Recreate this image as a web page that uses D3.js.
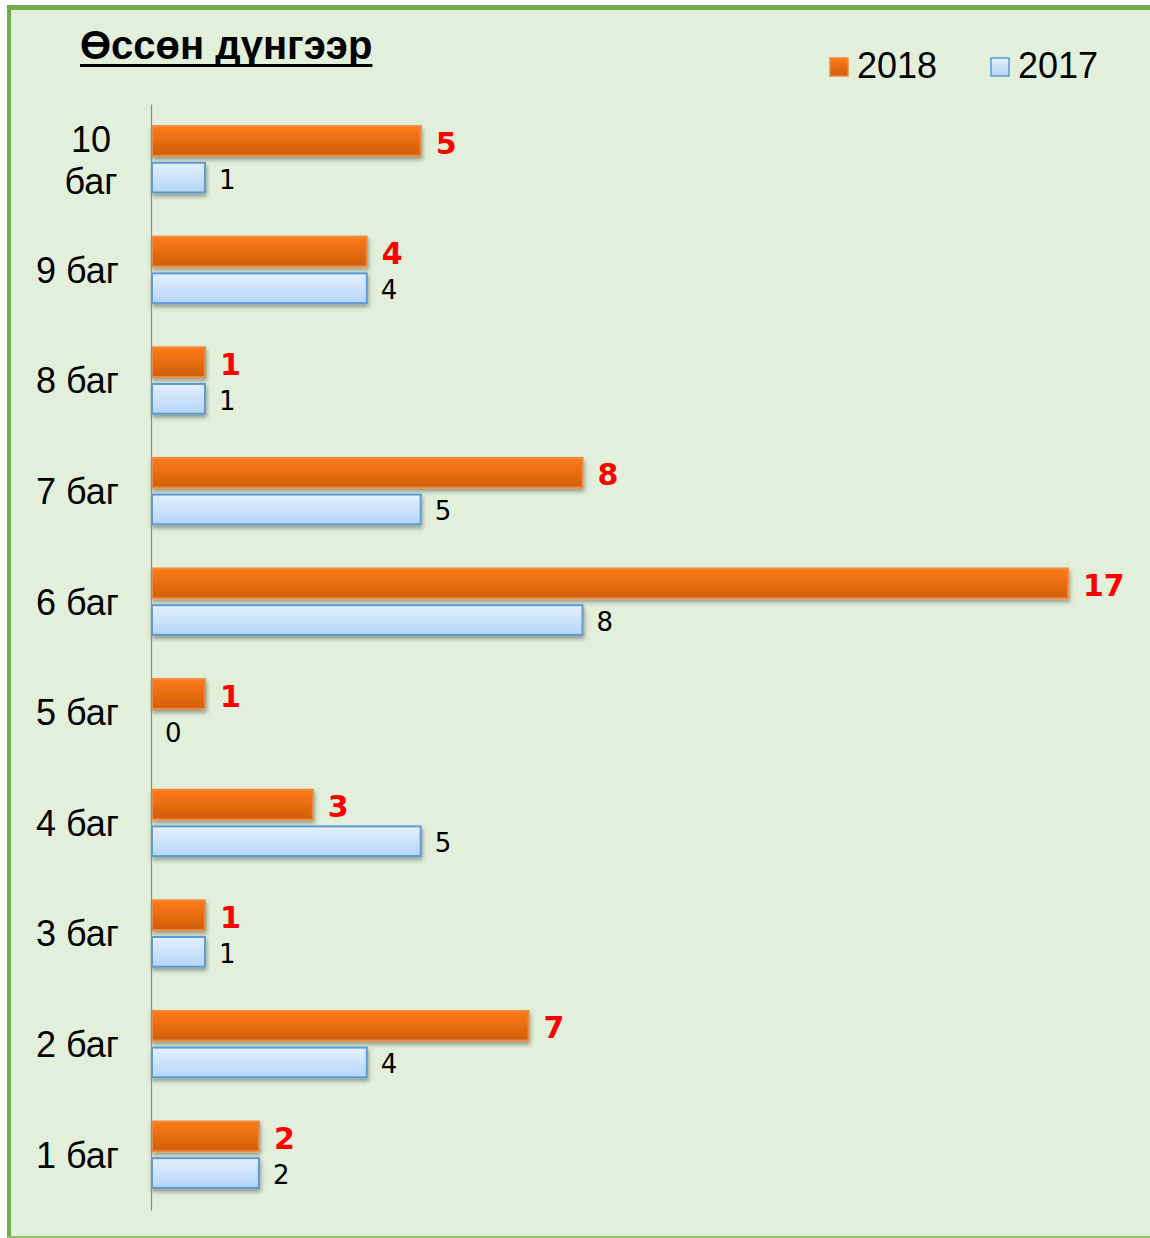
<!DOCTYPE html>
<html lang="mn">
<head>
<meta charset="UTF-8">
<title>Өссөн дүнгээр</title>
<script src="https://d3js.org/d3.v7.min.js"></script>
<style>
  html, body { margin: 0; padding: 0; background: #fff; }
  .cat text { font-family: "Liberation Sans", Arial, sans-serif; font-size: 36px; fill: #000; }
  .lab18 { font-family: "DejaVu Sans", Verdana, sans-serif; font-size: 30px; font-weight: bold; fill: #ff0000; }
  .lab17 { font-family: "DejaVu Sans", Verdana, sans-serif; font-size: 26px; fill: #000; }
  .legend text { font-family: "Liberation Sans", Arial, sans-serif; font-size: 36px; fill: #000; }
  .title { font-family: "Liberation Sans", Arial, sans-serif; font-size: 40px; font-weight: bold; }
</style>
</head>
<body>
<div id="chart"></div>
<script>
// values
const categories = ["10 баг", "9 баг", "8 баг", "7 баг", "6 баг", "5 баг", "4 баг", "3 баг", "2 баг", "1 баг"];
const series = ["2018", "2017"];
const values2018 = [5, 4, 1, 8, 17, 1, 3, 1, 7, 2];
const values2017 = [1, 4, 1, 5, 8, 0, 5, 1, 4, 2];
const titleText = "Өссөн дүнгээр";

const W = 1150, H = 1238;
const svg = d3.select("#chart").append("svg")
  .attr("width", W).attr("height", H);

const defs = svg.append("defs");
const gOrange = defs.append("linearGradient").attr("id", "gOrange")
  .attr("x1", 0).attr("y1", 0).attr("x2", 0).attr("y2", 1);
gOrange.append("stop").attr("offset", "0%").attr("stop-color", "#ff7b17");
gOrange.append("stop").attr("offset", "100%").attr("stop-color", "#cf5e0c");
const gBlue = defs.append("linearGradient").attr("id", "gBlue")
  .attr("x1", 0).attr("y1", 0).attr("x2", 0).attr("y2", 1);
gBlue.append("stop").attr("offset", "0%").attr("stop-color", "#e4f0ff");
gBlue.append("stop").attr("offset", "100%").attr("stop-color", "#b4d5f8");
const shadow = defs.append("filter").attr("id", "shadow")
  .attr("x", "-5%").attr("y", "-30%").attr("width", "115%").attr("height", "180%");
shadow.append("feDropShadow").attr("dx", 1).attr("dy", 3).attr("stdDeviation", 2)
  .attr("flood-color", "#000").attr("flood-opacity", 0.35);

// background + frame
svg.append("rect").attr("x", 0).attr("y", 0).attr("width", W).attr("height", H).attr("fill", "#fff");
svg.append("rect").attr("x", 9).attr("y", 8).attr("width", W - 9).attr("height", H - 9)
  .attr("fill", "#e2efda");
svg.append("rect").attr("x", 7).attr("y", 5).attr("width", W - 7).attr("height", 5).attr("fill", "#70ad47");
svg.append("rect").attr("x", 7).attr("y", 5).attr("width", 4).attr("height", H - 5).attr("fill", "#70ad47");
svg.append("rect").attr("x", 7).attr("y", H - 2).attr("width", W - 7).attr("height", 2).attr("fill", "#8fbf6a");

// title with a solid underline
const title = svg.append("text").attr("class", "title").attr("x", 80).attr("y", 59).text(titleText);
const tw = title.node().getComputedTextLength();
svg.append("rect").attr("x", 80).attr("y", 64).attr("width", tw).attr("height", 3).attr("fill", "#000");

const x0 = 151;
const x = d3.scaleLinear().domain([0, 17]).range([x0, x0 + 917]);
const y = d3.scaleBand().domain(categories).range([104, 1210]).padding(0);
const ySub = d3.scaleBand().domain(series)
  .range([y.bandwidth() * 0.2, y.bandwidth() * 0.8]).paddingInner(0.19);

const rows = categories.map((c, i) => ({ cat: c, v: { "2018": values2018[i], "2017": values2017[i] } }));
const fills = { "2018": "url(#gOrange)", "2017": "url(#gBlue)" };
const strokes = { "2018": "#f08a3c", "2017": "#5b9bd5" };

const groups = svg.append("g").selectAll("g").data(rows).enter().append("g")
  .attr("transform", d => `translate(0,${y(d.cat)})`);

groups.selectAll("rect").data(d => series.map(s => ({ s, v: d.v[s] })).filter(e => e.v > 0))
  .enter().append("rect")
  .attr("x", x(0) + 1)
  .attr("y", e => ySub(e.s))
  .attr("width", e => x(e.v) - x(0) - 1)
  .attr("height", ySub.bandwidth())
  .attr("fill", e => fills[e.s])
  .attr("stroke", e => strokes[e.s])
  .attr("stroke-width", 2)
  .attr("filter", "url(#shadow)");

groups.selectAll("text").data(d => series.map(s => ({ s, v: d.v[s] })))
  .enter().append("text")
  .attr("class", e => e.s === "2018" ? "lab18" : "lab17")
  .attr("x", e => x(e.v) + (e.s === "2018" ? 15 : 14))
  .attr("y", e => ySub(e.s) + ySub.bandwidth() / 2)
  .attr("dy", "0.42em")
  .text(e => e.v);

// category axis
const axis = svg.append("g").attr("class", "cat")
  .attr("transform", `translate(${x0},0)`)
  .call(d3.axisLeft(y).tickSize(0).tickSizeOuter(0).tickPadding(32));
axis.select(".domain").attr("stroke", "#8c8c8c").attr("stroke-width", 1.2);
axis.selectAll(".tick text").attr("dy", "0.36em").each(function (d) {
  const t = d3.select(this);
  const words = d.split(" ");
  if (words[0].length > 1) {
    t.text(null).attr("text-anchor", "middle").attr("x", -60).attr("dy", null);
    t.append("tspan").attr("x", -60).attr("dy", "-0.2em").text(words[0]);
    t.append("tspan").attr("x", -60).attr("dy", "1.17em").text(words.slice(1).join(" "));
  }
});

// legend
const legend = svg.append("g").attr("class", "legend");
const legX = { "2018": 829, "2017": 990 };
series.forEach(s => {
  const g = legend.append("g").attr("transform", `translate(${legX[s]},57)`);
  g.append("rect").attr("x", 1).attr("y", 1).attr("width", 18).attr("height", 18)
    .attr("fill", fills[s]).attr("stroke", strokes[s]).attr("stroke-width", 1.5);
  g.append("text").attr("x", 28).attr("y", 21).text(s);
});
</script>
</body>
</html>
